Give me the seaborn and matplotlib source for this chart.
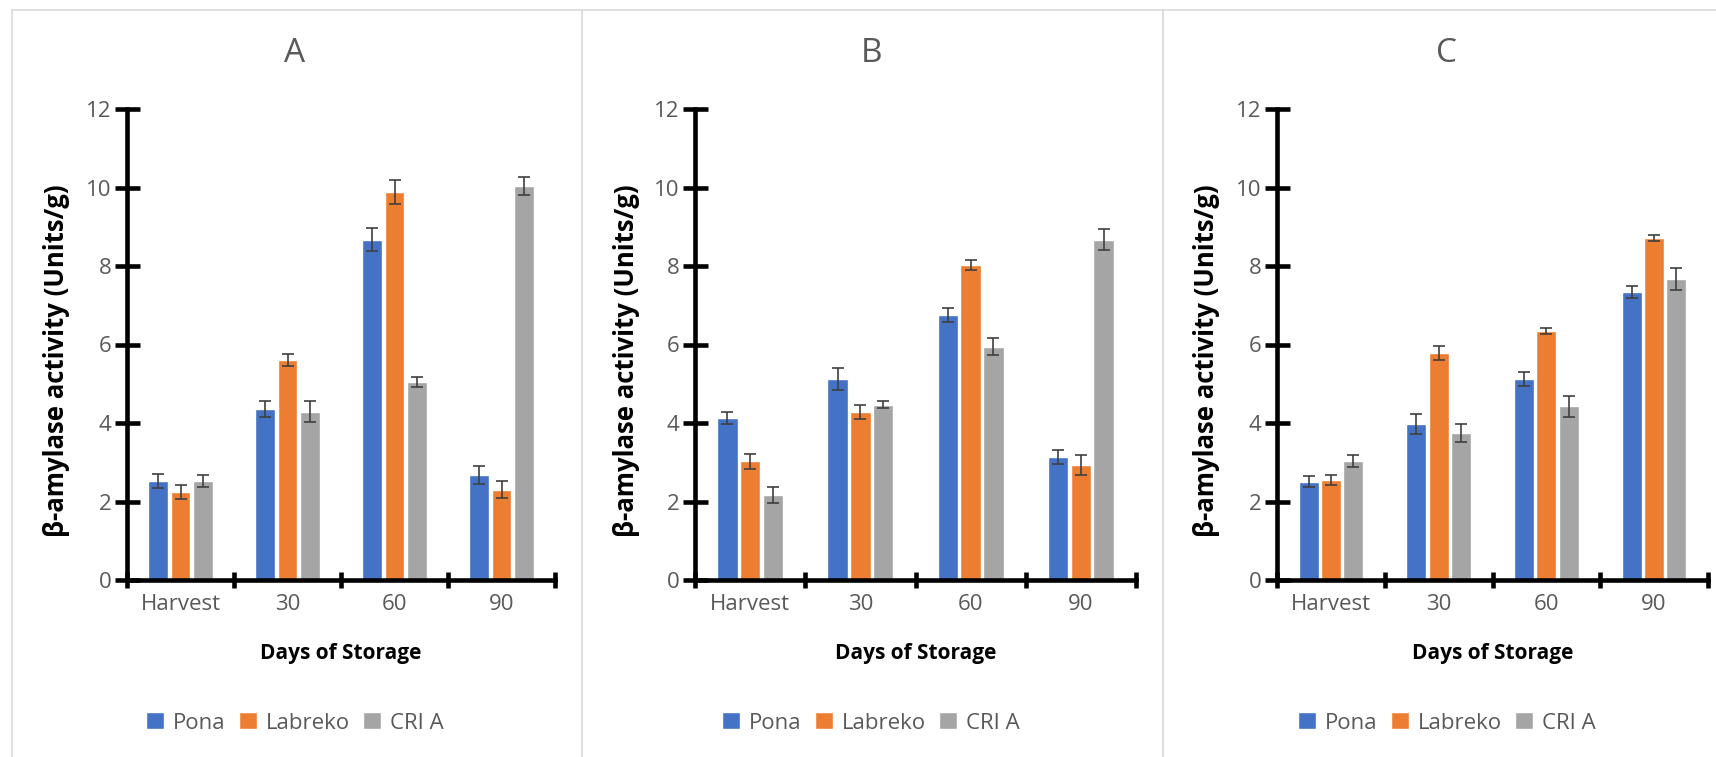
import matplotlib
matplotlib.use("Agg")
import matplotlib.pyplot as plt
import seaborn as sns
import pandas as pd
import numpy as np
from matplotlib.lines import Line2D

categories = ["Harvest", "30", "60", "90"]
varieties = ["Pona", "Labreko", "CRI A"]
colors = ["#4472C4", "#ED7D31", "#A5A5A5"]
panel_titles = ["A", "B", "C"]

# Panel A means / errors
a_pona = [2.52, 4.35, 8.67, 2.67]
a_labreko = [2.25, 5.60, 9.89, 2.30]
a_cria = [2.52, 4.29, 5.04, 10.04]
a_pona_err = [0.18, 0.20, 0.30, 0.23]
a_labreko_err = [0.18, 0.15, 0.30, 0.22]
a_cria_err = [0.15, 0.27, 0.12, 0.22]

# Panel B
b_pona = [4.13, 5.11, 6.76, 3.14]
b_labreko = [3.02, 4.27, 8.02, 2.93]
b_cria = [2.16, 4.47, 5.94, 8.67]
b_pona_err = [0.16, 0.28, 0.18, 0.18]
b_labreko_err = [0.18, 0.18, 0.13, 0.25]
b_cria_err = [0.21, 0.08, 0.22, 0.26]

# Panel C
c_pona = [2.50, 3.98, 5.12, 7.34]
c_labreko = [2.54, 5.78, 6.34, 8.72]
c_cria = [3.03, 3.74, 4.43, 7.67]
c_pona_err = [0.14, 0.26, 0.18, 0.15]
c_labreko_err = [0.13, 0.17, 0.08, 0.08]
c_cria_err = [0.15, 0.23, 0.27, 0.27]

panels = [
    ([a_pona, a_labreko, a_cria], [a_pona_err, a_labreko_err, a_cria_err]),
    ([b_pona, b_labreko, b_cria], [b_pona_err, b_labreko_err, b_cria_err]),
    ([c_pona, c_labreko, c_cria], [c_pona_err, c_labreko_err, c_cria_err]),
]

sns.set_theme(style="white")
plt.rcParams["font.family"] = ["Open Sans", "DejaVu Sans"]

W, H = 1716, 757
fig = plt.figure(figsize=(W / 100, H / 100), dpi=100)
fig.patch.set_facecolor("white")

axes_px = [(127, 555), (695, 1136), (1277, 1708)]
title_x = [295, 871, 1447]
ylabel_x = [57, 627, 1206]
top_px, bot_px = 109, 580
tick_grey = "#595959"

for i, ((means, errs), (lx, rx)) in enumerate(zip(panels, axes_px)):
    ax = fig.add_axes([lx / W, 1 - bot_px / H, (rx - lx) / W, (bot_px - top_px) / H])
    rows = []
    for v, m in zip(varieties, means):
        for c, val in zip(categories, m):
            rows.append({"Day": c, "Variety": v, "Activity": val})
    df = pd.DataFrame(rows)
    sns.barplot(data=df, x="Day", y="Activity", hue="Variety", order=categories,
                hue_order=varieties, palette=colors, width=0.62, gap=0.1,
                errorbar=None, ax=ax, legend=True, saturation=1)
    for cont, e in zip(ax.containers, errs):
        xs = [b.get_x() + b.get_width() / 2 for b in cont]
        ys = [b.get_height() for b in cont]
        ax.errorbar(xs, ys, yerr=e, fmt="none", ecolor="#404040",
                    elinewidth=1.2, capsize=4, capthick=1.2, zorder=5)
    ax.set_ylim(0, 12)
    ax.set_xlim(-0.5, 3.5)
    ax.set_yticks(np.arange(0, 13, 2))
    ax.set_xticks(np.arange(-0.5, 4, 1.0), minor=True)
    ax.tick_params(axis="x", which="major", bottom=False, length=0, pad=10,
                   labelsize=16, labelcolor=tick_grey)
    ax.tick_params(axis="x", which="minor", bottom=True, length=12, width=3.3,
                   direction="inout", color="black")
    ax.tick_params(axis="y", which="major", left=True, length=18, width=3.3,
                   direction="inout", color="black", pad=2, labelsize=16,
                   labelcolor=tick_grey)
    for s in ["top", "right"]:
        ax.spines[s].set_visible(False)
    for s in ["left", "bottom"]:
        ax.spines[s].set_linewidth(3.3)
        ax.spines[s].set_color("black")
    ax.set_xlabel("Days of Storage", fontsize=15, fontweight="bold", color="black")
    ax.xaxis.set_label_coords(0.5, -(654 - bot_px) / (bot_px - top_px))
    ax.set_ylabel("β-amylase activity (Units/g)", fontsize=18.5, fontweight="bold",
                  color="black")
    ax.yaxis.set_label_coords((ylabel_x[i] - lx) / (rx - lx),
                              1 - (361 - top_px) / (bot_px - top_px))
    ax.yaxis.label.set_va("center")
    ax.xaxis.label.set_va("center")
    handles, labels = ax.get_legend_handles_labels()
    ax.legend(handles, labels, loc="center",
              bbox_to_anchor=(title_x[i] / W, 1 - 723 / H), bbox_transform=fig.transFigure,
              ncol=3, frameon=False, fontsize=16, labelcolor=tick_grey,
              handlelength=0.8, handleheight=0.8, handletextpad=0.4, columnspacing=0.6)
    fig.text(title_x[i] / W, 1 - 53 / H, panel_titles[i], ha="center", va="center",
             fontsize=24, color=tick_grey)

border = "#d9d9d9"
fig.add_artist(Line2D([12 / W, 1], [1 - 10 / H, 1 - 10 / H], color=border, lw=1.2))
fig.add_artist(Line2D([12 / W, 12 / W], [0, 1 - 10 / H], color=border, lw=1.2))
for xv in [582, 1163]:
    fig.add_artist(Line2D([xv / W, xv / W], [0, 1 - 10 / H], color=border, lw=1.2))

fig.savefig("out.png", dpi=100, facecolor="white")
